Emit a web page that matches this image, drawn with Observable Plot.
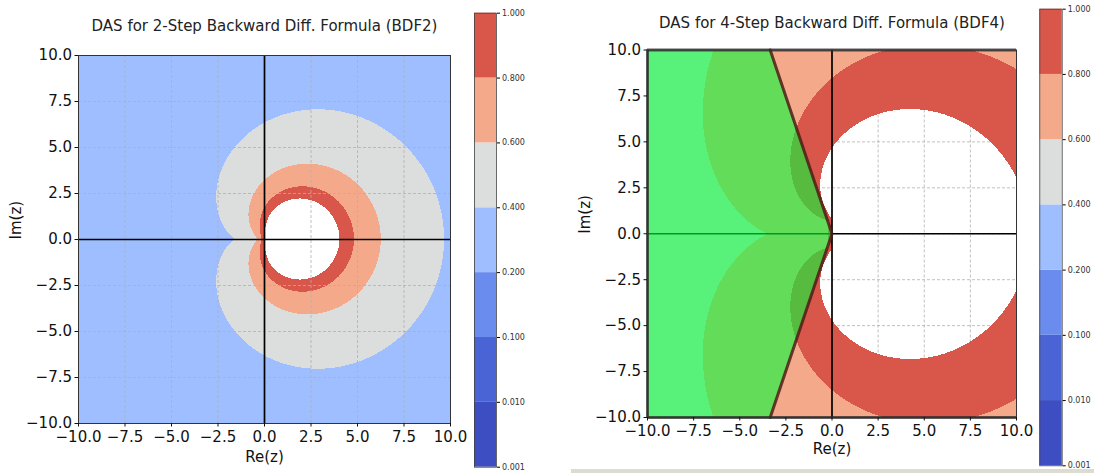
<!DOCTYPE html>
<html>
<head>
<meta charset="utf-8">
<script src="https://cdn.jsdelivr.net/npm/d3@7"></script>
<script src="https://cdn.jsdelivr.net/npm/@observablehq/plot@0.6"></script>
<style>
  html, body { margin: 0; padding: 0; background: #fff; }
  #fig { position: relative; width: 1094px; height: 473px; overflow: hidden; font-family: "DejaVu Sans", sans-serif; }
  #fig > svg, #fig > div { position: absolute; }
</style>
</head>
<body>
<div id="fig"></div>
<script>
// Contour levels of the largest root modulus and the colour of each band
const levels = [0.001, 0.01, 0.1, 0.2, 0.4, 0.6, 0.8, 1.0];
const levelLabels = ["0.001", "0.010", "0.100", "0.200", "0.400", "0.600", "0.800", "1.000"];
const bandColors = ["#3c4ec2", "#4b64d5", "#6a8cef", "#9ebeff", "#dcdddd", "#f5a98b", "#d8564a"];
const axisTicks = [-10, -7.5, -5, -2.5, 0, 2.5, 5, 7.5, 10];

// BDF coefficients: rho(ζ) = Σ alpha[j] ζ^j, sigma(ζ) = Σ beta[j] ζ^j
const bdf2Alpha = [1 / 2, -2, 3 / 2];
const bdf2Beta = [0, 0, 1];
const bdf4Alpha = [1 / 4, -4 / 3, 3, -4, 25 / 12];
const bdf4Beta = [0, 0, 0, 0, 1];

// A(α)-stability wedge shown on the BDF4 panel
const wedgeEdge = [[-3.35, 10], [0, 0], [-3.35, -10]];

const titles = [
  "DAS for 2-Step Backward Diff. Formula (BDF2)",
  "DAS for 4-Step Backward Diff. Formula (BDF4)"
];

// Largest |ζ| among the roots of rho(ζ) - z·sigma(ζ) = 0
function maxRootModulus(alpha, beta, zr, zi) {
  const k = alpha.length - 1;
  const lr = alpha[k] - zr * beta[k], li = -zi * beta[k];
  const dd = lr * lr + li * li;
  if (dd < 1e-18) return Infinity;
  const ar = new Float64Array(k), ai = new Float64Array(k);
  for (let j = 0; j < k; j++) {
    const cr = alpha[j] - zr * beta[j], ci = -zi * beta[j];
    ar[j] = (cr * lr + ci * li) / dd;
    ai[j] = (ci * lr - cr * li) / dd;
  }
  if (k === 2) {
    const br = ar[1] * ar[1] - ai[1] * ai[1] - 4 * ar[0];
    const bi = 2 * ar[1] * ai[1] - 4 * ai[0];
    const r = Math.hypot(br, bi);
    const sr = Math.sqrt(Math.max(0, (r + br) / 2));
    const si = (bi < 0 ? -1 : 1) * Math.sqrt(Math.max(0, (r - br) / 2));
    return Math.max(Math.hypot(-ar[1] + sr, -ai[1] + si), Math.hypot(-ar[1] - sr, -ai[1] - si)) / 2;
  }
  // Durand–Kerner iteration for higher degrees
  const pr = new Float64Array(k), pi = new Float64Array(k);
  let wr = 1, wi = 0;
  for (let i = 0; i < k; i++) {
    pr[i] = wr; pi[i] = wi;
    const t = wr * 0.4 - wi * 0.9;
    wi = wr * 0.9 + wi * 0.4; wr = t;
  }
  for (let it = 0; it < 300; it++) {
    let delta = 0;
    for (let i = 0; i < k; i++) {
      let vr = 1, vi = 0;
      for (let j = k - 1; j >= 0; j--) {
        const t = vr * pr[i] - vi * pi[i] + ar[j];
        vi = vr * pi[i] + vi * pr[i] + ai[j];
        vr = t;
      }
      let qr = 1, qi = 0;
      for (let j = 0; j < k; j++) {
        if (j === i) continue;
        const dr = pr[i] - pr[j], di = pi[i] - pi[j];
        const t = qr * dr - qi * di;
        qi = qr * di + qi * dr; qr = t;
      }
      const qq = qr * qr + qi * qi;
      if (qq === 0) { pr[i] += 1e-7; continue; }
      const sr = (vr * qr + vi * qi) / qq, si = (vi * qr - vr * qi) / qq;
      pr[i] -= sr; pi[i] -= si;
      delta = Math.max(delta, Math.abs(sr) + Math.abs(si));
    }
    if (delta < 1e-12) break;
  }
  let m = 0;
  for (let i = 0; i < k; i++) m = Math.max(m, Math.hypot(pr[i], pi[i]));
  return m;
}

const colorScale = {type: "threshold", domain: levels.slice(1), range: [...bandColors, "#ffffff"]};
const fmt = d3.format(".1f");
const FONT = "DejaVu Sans";

function panel({alpha, beta, title, width, height, margin, titleDy, labelDy, gridOnTop, overlay}) {
  const fw = Math.round(width - margin.left - margin.right);
  const fh = Math.round(height - margin.top - margin.bottom);
  const gridMarks = [
    Plot.gridX(axisTicks.slice(1, -1), {stroke: "#b0b0b0", strokeOpacity: 1, strokeWidth: 0.8, strokeDasharray: "3,2"}),
    Plot.gridY(axisTicks.slice(1, -1), {stroke: "#b0b0b0", strokeOpacity: 1, strokeWidth: 0.8, strokeDasharray: "3,2"})
  ];
  const raster = Plot.raster({
    x1: -10, x2: 10, y1: -10, y2: 10, width: fw, height: fh,
    imageRendering: "pixelated",
    fill: (x, y) => {
      const m = maxRootModulus(alpha, beta, x, y);
      return m >= 1 ? NaN : m; // unstable region left blank
    }
  });
  return Plot.plot({
    width, height,
    marginLeft: margin.left, marginRight: margin.right, marginTop: margin.top, marginBottom: margin.bottom,
    style: {fontFamily: FONT, fontSize: "15px", color: "#111", background: "transparent", overflow: "visible"},
    x: {domain: [-10, 10]},
    y: {domain: [-10, 10]},
    color: colorScale,
    marks: [
      ...(gridOnTop ? [] : gridMarks),
      raster,
      ...(gridOnTop ? gridMarks : []),
      Plot.ruleX([0], {stroke: "#000", strokeWidth: 1.7}),
      Plot.ruleY([0], {stroke: "#000", strokeWidth: 1.7}),
      ...(overlay || []),
      Plot.frame({stroke: "#333", strokeWidth: 1}),
      Plot.axisX(axisTicks, {tickFormat: fmt, tickSize: 3.5, tickPadding: 4, fontSize: 15, label: null}),
      Plot.axisY(axisTicks, {tickFormat: fmt, tickSize: 3.5, tickPadding: 3, fontSize: 15, label: null}),
      Plot.text([title], {frameAnchor: "top", dy: titleDy, fontSize: 15, fill: "#222"}),
      Plot.text(["Re(z)"], {frameAnchor: "bottom", dy: labelDy, fontSize: 15}),
      Plot.text(["Im(z)"], {frameAnchor: "left", dx: -62, rotate: -90, fontSize: 15})
    ]
  });
}

function colorbar({width, height, margin}) {
  return Plot.plot({
    width, height,
    marginLeft: margin.left, marginRight: margin.right, marginTop: margin.top, marginBottom: margin.bottom,
    style: {fontFamily: FONT, background: "transparent", overflow: "visible"},
    x: {domain: [0, 1], axis: null},
    y: {domain: [0, levels.length - 1], axis: null},
    color: colorScale,
    marks: [
      Plot.rect(levels.slice(0, -1), {x1: 0, x2: 1, y1: (d, i) => i, y2: (d, i) => i + 1, fill: (d) => d}),
      Plot.frame({stroke: "#444", strokeWidth: 0.8}),
      Plot.axisY(d3.range(levels.length), {
        anchor: "right", tickFormat: (i) => levelLabels[i], tickSize: 3, tickPadding: 2.5,
        fontSize: 8, fill: "#333", label: null
      })
    ]
  });
}

const fig = document.getElementById("fig");
function place(el, left, top) {
  el.style.left = left + "px";
  el.style.top = top + "px";
  fig.appendChild(el);
}

// BDF2 panel
place(panel({
  alpha: bdf2Alpha, beta: bdf2Beta, title: titles[0],
  width: 474, height: 473,
  margin: {left: 78, right: 24, top: 55, bottom: 50},
  titleDy: -35, labelDy: 38,
  gridOnTop: true
}), 0, 0);
place(colorbar({width: 70, height: 473, margin: {left: 4, right: 44, top: 12.7, bottom: 6.3}}), 470, 0);

// BDF4 panel with the shaded A(α) wedge
const wedgeLine = {stroke: "#4a2018", strokeOpacity: 0.85, strokeWidth: 3};
const edgeLine = {stroke: "#2a2a2a", strokeOpacity: 0.75, strokeWidth: 3};
place(panel({
  alpha: bdf4Alpha, beta: bdf4Beta, title: titles[1],
  width: 480, height: 473,
  margin: {left: 87, right: 24, top: 49.5, bottom: 56},
  titleDy: -33, labelDy: 36,
  gridOnTop: false,
  overlay: [
    Plot.areaX(wedgeEdge, {x1: -10, x2: (d) => d[0], y: (d) => d[1], fill: "rgb(0,255,56)", fillOpacity: 0.6}),
    Plot.line(wedgeEdge, {x: (d) => d[0], y: (d) => d[1], ...wedgeLine}),
    Plot.ruleY([-10, 10], edgeLine),
    Plot.ruleX([-10], edgeLine)
  ]
}), 560, 0);
place(colorbar({width: 59, height: 473, margin: {left: 4.3, right: 32.3, top: 8.7, bottom: 7.7}}), 1035, 0);

// strip along the lower edge of the right half
const strip = document.createElement("div");
Object.assign(strip.style, {left: "571px", top: "469px", width: "523px", height: "4px", background: "#dddcd0"});
fig.appendChild(strip);
</script>
</body>
</html>
